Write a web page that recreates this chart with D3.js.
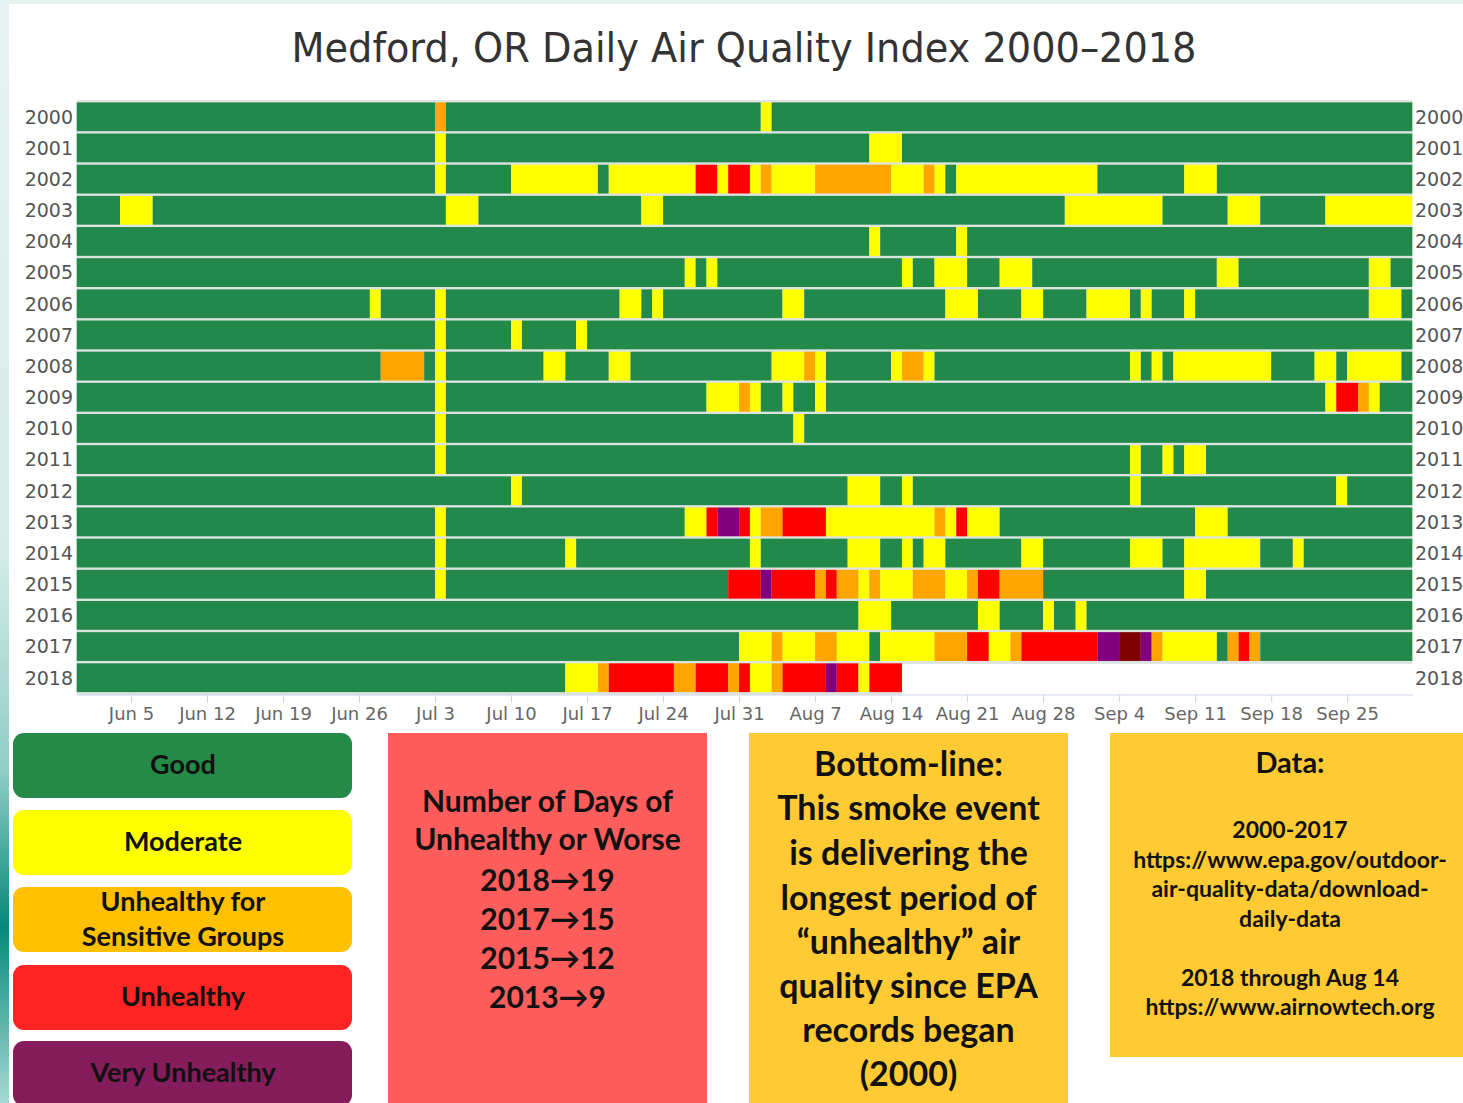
<!DOCTYPE html>
<html>
<head>
<meta charset="utf-8">
<title>Medford AQI</title>
<script src="https://d3js.org/d3.v7.min.js"></script>
<style>
  body, html { margin: 0; padding: 0; background: #fff; }
  svg { display: block; }
  .axis path, .axis line { stroke: #ccd6eb; }
  .axis text { fill: #666; font-family: "DejaVu Sans", sans-serif; font-size: 18px; }
  .yr { fill: #555; font-family: "DejaVu Sans", sans-serif; font-size: 19px; }
  .box text { font-family: Lato, "DejaVu Sans", sans-serif; font-weight: 700; fill: #111; text-anchor: middle; }
</style>
</head>
<body>
<svg id="chart" width="1463" height="1103"></svg>
<script>
// ---- data ----
var years = [2000, 2001, 2002, 2003, 2004, 2005, 2006, 2007, 2008, 2009,
             2010, 2011, 2012, 2013, 2014, 2015, 2016, 2017, 2018];

var tickLabels = ["Jun 5", "Jun 12", "Jun 19", "Jun 26", "Jul 3", "Jul 10", "Jul 17",
                  "Jul 24", "Jul 31", "Aug 7", "Aug 14", "Aug 21", "Aug 28",
                  "Sep 4", "Sep 11", "Sep 18", "Sep 25"];

var seasonStart = "05-31", seasonEnd = "10-01";
var lastDay2018 = "08-14";

// level codes: G good, M moderate, S sensitive groups, U unhealthy, V very unhealthy, H hazardous
var levelCodes = ["G", "M", "S", "U", "V", "H"];
var cellColors = ["#23894a", "#ffff00", "#ffa500", "#ff0000", "#800080", "#7e0000"];

// non-good runs per year: [first day, number of days, level]
var y2000 = [["07-03",1,"S"],["08-02",1,"M"]];
var y2001 = [["07-03",1,"M"],["08-12",3,"M"]];
var y2002 = [["07-03",1,"M"],["07-10",8,"M"],["07-19",8,"M"],["07-27",2,"U"],["07-29",1,"M"],
             ["07-30",2,"U"],["08-01",1,"M"],["08-02",1,"S"],["08-03",4,"M"],["08-07",7,"S"],
             ["08-14",3,"M"],["08-17",1,"S"],["08-18",1,"M"],["08-20",13,"M"],["09-10",3,"M"]];
var y2003 = [["06-04",3,"M"],["07-04",3,"M"],["07-22",2,"M"],["08-30",9,"M"],["09-14",3,"M"],["09-23",8,"M"]];
var y2004 = [["08-12",1,"M"],["08-20",1,"M"]];
var y2005 = [["07-26",1,"M"],["07-28",1,"M"],["08-15",1,"M"],["08-18",3,"M"],["08-24",3,"M"],
             ["09-13",2,"M"],["09-27",2,"M"]];
var y2006 = [["06-27",1,"M"],["07-03",1,"M"],["07-20",2,"M"],["07-23",1,"M"],["08-04",2,"M"],
             ["08-19",3,"M"],["08-26",2,"M"],["09-01",4,"M"],["09-06",1,"M"],["09-10",1,"M"],["09-27",3,"M"]];
var y2007 = [["07-03",1,"M"],["07-10",1,"M"],["07-16",1,"M"]];
var y2008 = [["06-28",4,"S"],["07-03",1,"M"],["07-13",2,"M"],["07-19",2,"M"],["08-03",3,"M"],
             ["08-06",1,"S"],["08-07",1,"M"],["08-14",1,"M"],["08-15",2,"S"],["08-17",1,"M"],
             ["09-05",1,"M"],["09-07",1,"M"],["09-09",9,"M"],["09-22",2,"M"],["09-25",5,"M"]];
var y2009 = [["07-03",1,"M"],["07-28",3,"M"],["07-31",1,"S"],["08-01",1,"M"],["08-04",1,"M"],
             ["08-07",1,"M"],["09-23",1,"M"],["09-24",2,"U"],["09-26",1,"S"],["09-27",1,"M"]];
var y2010 = [["07-03",1,"M"],["08-05",1,"M"]];
var y2011 = [["07-03",1,"M"],["09-05",1,"M"],["09-08",1,"M"],["09-10",2,"M"]];
var y2012 = [["07-10",1,"M"],["08-10",3,"M"],["08-15",1,"M"],["09-05",1,"M"],["09-24",1,"M"]];
var y2013 = [["07-03",1,"M"],["07-26",2,"M"],["07-28",1,"U"],["07-29",2,"V"],["07-31",1,"U"],
             ["08-01",1,"M"],["08-02",2,"S"],["08-04",4,"U"],["08-08",10,"M"],["08-18",1,"S"],
             ["08-19",1,"M"],["08-20",1,"U"],["08-21",3,"M"],["09-11",3,"M"]];
var y2014 = [["07-03",1,"M"],["07-15",1,"M"],["08-01",1,"M"],["08-10",3,"M"],["08-15",1,"M"],
             ["08-17",2,"M"],["08-26",2,"M"],["09-05",3,"M"],["09-10",7,"M"],["09-20",1,"M"]];
var y2015 = [["07-03",1,"M"],["07-30",3,"U"],["08-02",1,"V"],["08-03",4,"U"],["08-07",1,"S"],
             ["08-08",1,"U"],["08-09",2,"S"],["08-11",1,"M"],["08-12",1,"S"],["08-13",3,"M"],
             ["08-16",3,"S"],["08-19",2,"M"],["08-21",1,"S"],["08-22",2,"U"],["08-24",4,"S"],["09-10",2,"M"]];
var y2016 = [["08-11",3,"M"],["08-22",2,"M"],["08-28",1,"M"],["08-31",1,"M"]];
var y2017 = [["07-31",3,"M"],["08-03",1,"S"],["08-04",3,"M"],["08-07",2,"S"],["08-09",3,"M"],
             ["08-13",5,"M"],["08-18",3,"S"],["08-21",2,"U"],["08-23",2,"M"],["08-25",1,"S"],
             ["08-26",7,"U"],["09-02",2,"V"],["09-04",2,"H"],["09-06",1,"V"],["09-07",1,"S"],
             ["09-08",5,"M"],["09-14",1,"S"],["09-15",1,"U"],["09-16",1,"S"]];
var y2018 = [["07-15",3,"M"],["07-18",1,"S"],["07-19",6,"U"],["07-25",2,"S"],["07-27",3,"U"],
             ["07-30",1,"S"],["07-31",1,"U"],["08-01",2,"M"],["08-03",1,"S"],["08-04",4,"U"],
             ["08-08",1,"V"],["08-09",2,"U"],["08-11",1,"M"],["08-12",3,"U"]];
var runsByYear = [y2000, y2001, y2002, y2003, y2004, y2005, y2006, y2007, y2008, y2009,
                  y2010, y2011, y2012, y2013, y2014, y2015, y2016, y2017, y2018];

var legendLabels = [["Good"], ["Moderate"], ["Unhealthy for", "Sensitive Groups"], ["Unhealthy"], ["Very Unhealthy"]];
var legendColors = ["#258a48", "#ffff00", "#ffc000", "#ff2424", "#851d5d"];

var countLines = ["Number of Days of", "Unhealthy or Worse", "2018\u219219", "2017\u219215", "2015\u219212", "2013\u21929"];
var bottomLines = ["Bottom-line:", "This smoke event", "is delivering the", "longest period of",
                   "\u201cunhealthy\u201d air", "quality since EPA", "records began", "(2000)"];
var sourceLines = ["2000-2017", "https://www.epa.gov/outdoor-", "air-quality-data/download-", "daily-data",
                   "", "2018 through Aug 14", "https://www.airnowtech.org"];

// ---- helpers ----
function md(s) {
  var p = s.split("-");
  return new Date(Date.UTC(2018, +p[0] - 1, +p[1]));
}

var svg = d3.select("#chart");

// slide background bits
var grad = svg.append("defs").append("linearGradient")
  .attr("id", "strip").attr("x1", 0).attr("y1", 0).attr("x2", 0).attr("y2", 1);
grad.append("stop").attr("offset", "0").attr("stop-color", "#e6f3f1");
grad.append("stop").attr("offset", "0.5").attr("stop-color", "#d4ece8");
grad.append("stop").attr("offset", "0.7").attr("stop-color", "#8fcdc5");
grad.append("stop").attr("offset", "0.84").attr("stop-color", "#05897a");
grad.append("stop").attr("offset", "1").attr("stop-color", "#a6d9d2");
svg.append("rect").attr("x", 0).attr("y", 0).attr("width", 1463).attr("height", 4).attr("fill", "#e4f2f0");
svg.append("rect").attr("x", 0).attr("y", 0).attr("width", 9).attr("height", 1103).attr("fill", "url(#strip)");

// title
svg.append("text")
  .attr("x", 744).attr("y", 62)
  .attr("text-anchor", "middle")
  .attr("textLength", 905).attr("lengthAdjust", "spacingAndGlyphs")
  .style("font-family", "'DejaVu Sans', sans-serif").style("font-size", "40px").style("fill", "#333")
  .text("Medford, OR Daily Air Quality Index 2000\u20132018");

// scales
var x = d3.scaleUtc().domain([md(seasonStart), md(seasonEnd)]).range([76.7, 1412.3]);
var y = d3.scaleBand().domain(years).range([101.2, 693.3]).paddingInner(0.076).paddingOuter(0.038);
var color = d3.scaleOrdinal().domain(levelCodes).range(cellColors);

// build merged segments per year
var rows = years.map(function (yr, i) {
  var end = yr === 2018 ? d3.utcDay.offset(md(lastDay2018), 1) : md(seasonEnd);
  var days = d3.utcDay.range(md(seasonStart), end);
  var codes = days.map(function () { return "G"; });
  runsByYear[i].forEach(function (r) {
    var s = d3.utcDay.count(md(seasonStart), md(r[0]));
    for (var k = 0; k < r[1]; k++) codes[s + k] = r[2];
  });
  var segs = [];
  codes.forEach(function (c, k) {
    var last = segs[segs.length - 1];
    if (last && last.code === c) last.end = d3.utcDay.offset(days[k], 1);
    else segs.push({ code: c, start: days[k], end: d3.utcDay.offset(days[k], 1) });
  });
  return { year: yr, end: end, segs: segs };
});

var plot = svg.append("g");

// light separators behind rows
plot.selectAll("rect.back").data(rows).enter().append("rect")
  .attr("class", "back")
  .attr("x", x(md(seasonStart)))
  .attr("y", function (d) { return y(d.year) - y.step() * 0.076; })
  .attr("width", function (d) { return x(d.end) - x(md(seasonStart)); })
  .attr("height", y.step() * 1.076 + 0.5)
  .attr("fill", "#dde4e0");

var rowG = plot.selectAll("g.row").data(rows).enter().append("g")
  .attr("class", "row")
  .attr("transform", function (d) { return "translate(0," + y(d.year) + ")"; });

rowG.selectAll("rect").data(function (d) { return d.segs; }).enter().append("rect")
  .attr("x", function (d) { return x(d.start); })
  .attr("width", function (d) { return x(d.end) - x(d.start); })
  .attr("y", 0)
  .attr("height", y.bandwidth())
  .attr("fill", function (d) { return color(d.code); });

// year labels both sides
svg.append("g").selectAll("text").data(years).enter().append("text")
  .attr("class", "yr")
  .attr("x", 73).attr("text-anchor", "end")
  .attr("y", function (d) { return y(d) + y.bandwidth() / 2; }).attr("dy", "0.36em")
  .text(function (d) { return d; });
svg.append("g").selectAll("text").data(years).enter().append("text")
  .attr("class", "yr")
  .attr("x", 1415)
  .attr("y", function (d) { return y(d) + y.bandwidth() / 2; }).attr("dy", "0.36em")
  .text(function (d) { return d; });

// x axis
var parseTick = d3.utcParse("%b %d %Y");
var tickDates = tickLabels.map(function (t) { return parseTick(t + " 2018"); });
svg.append("g").attr("class", "axis")
  .attr("transform", "translate(0,694.5)")
  .call(d3.axisBottom(x).tickValues(tickDates).tickFormat(d3.utcFormat("%b %-d"))
    .tickSize(8).tickSizeOuter(0).tickPadding(5));

// ---- bottom panels ----
var legend = svg.append("g").attr("class", "box");
var legendTop = [733, 810, 887, 965, 1041];
legend.selectAll("rect").data(legendLabels).enter().append("rect")
  .attr("x", 13).attr("width", 339).attr("height", 65).attr("rx", 11)
  .attr("y", function (d, i) { return legendTop[i]; })
  .attr("fill", function (d, i) { return legendColors[i]; });
legend.selectAll("text.lab").data(legendLabels).enter().append("text")
  .attr("class", "lab")
  .attr("x", 183)
  .attr("y", function (d, i) { return legendTop[i] + (d.length > 1 ? 24 : 41); })
  .style("font-size", "27px")
  .each(function (d) {
    var t = d3.select(this);
    d.forEach(function (line, j) {
      t.append("tspan").attr("x", 183).attr("dy", j ? 35 : 0).text(line);
    });
  });

function textBox(x0, y0, w, h, fill, lines, baselines, sizes) {
  var g = svg.append("g").attr("class", "box");
  g.append("rect").attr("x", x0).attr("y", y0).attr("width", w).attr("height", h).attr("fill", fill);
  g.selectAll("text").data(lines).enter().append("text")
    .attr("x", x0 + w / 2)
    .attr("y", function (d, i) { return baselines[i]; })
    .style("font-size", function (d, i) { return sizes[i] + "px"; })
    .text(function (d) { return d; });
}

textBox(388, 733, 319, 370, "#ff5c5c", countLines,
  [812, 850, 891, 930, 969, 1008], [30, 30, 30, 30, 30, 30]);
textBox(749, 733, 319, 370, "#ffca33", bottomLines,
  [776, 820, 865, 910, 954, 998, 1042, 1086], [34, 34, 34, 34, 34, 34, 34, 34]);
textBox(1110, 733, 360, 324, "#ffca33", ["Data:"].concat(sourceLines),
  [773, 838, 868, 897, 927, 957, 986, 1015], [29, 23, 23, 23, 23, 23, 23, 23]);
</script>
</body>
</html>
